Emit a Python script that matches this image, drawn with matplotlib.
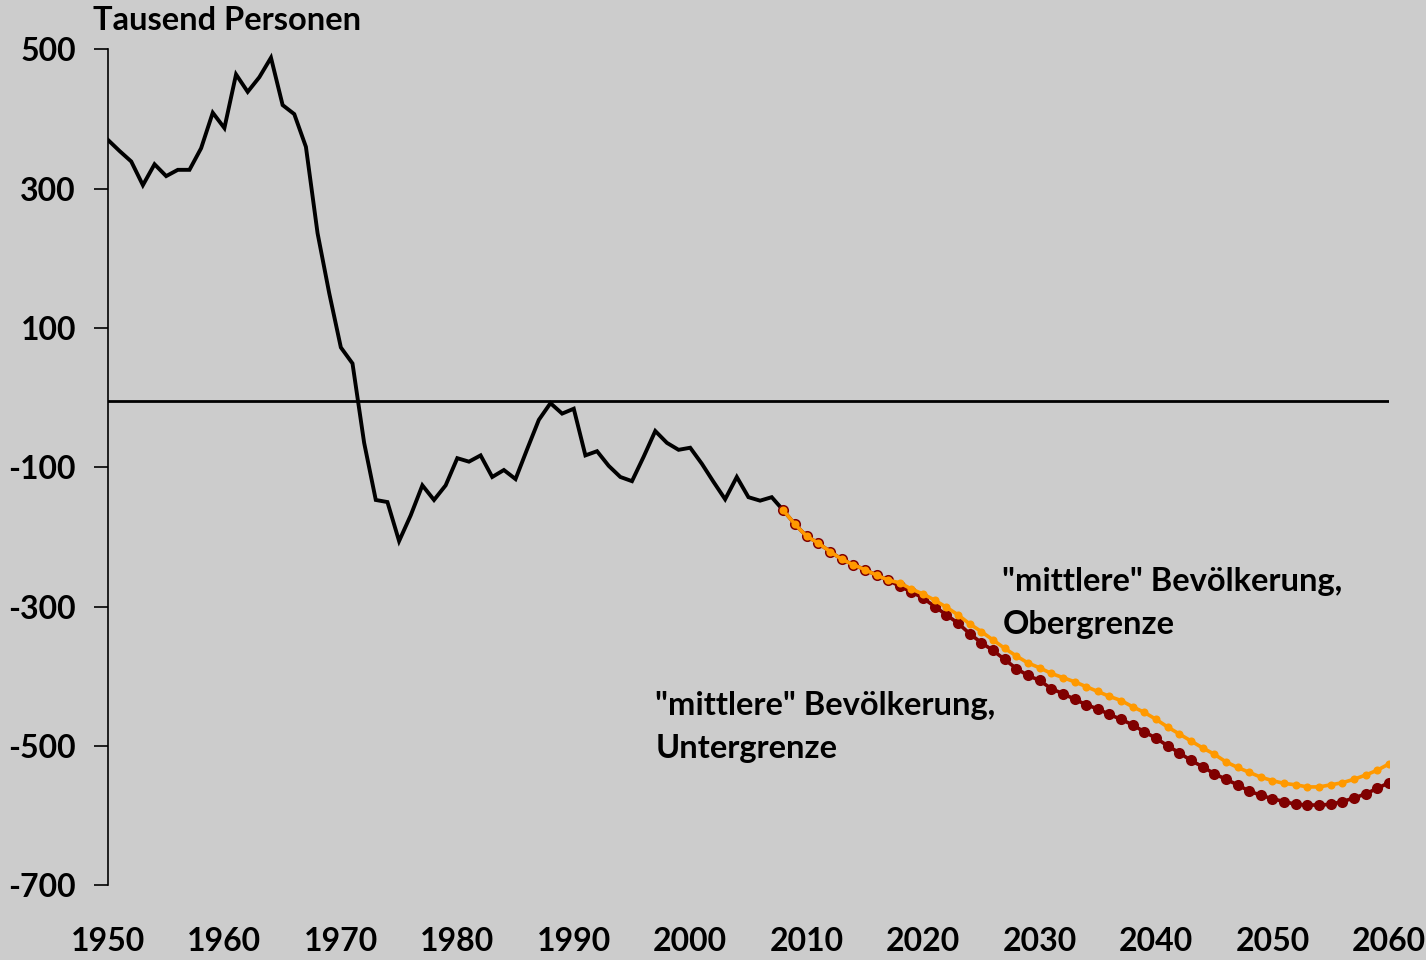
import matplotlib
matplotlib.use("Agg")
import matplotlib.pyplot as plt
import numpy as np

# Historical data (thousand persons), 1950-2008
hist_years = list(range(1950, 2009))
hist_values = [370, 354, 339, 305, 335, 318, 327, 327, 358, 409,
               387, 464, 439, 460, 488, 420, 407, 360, 236, 150,
               72, 49, -65, -147, -150, -206, -169, -126, -147, -126,
               -87, -92, -83, -114, -104, -117, -74, -32, -8, -23,
               -16, -83, -77, -98, -114, -120, -85, -48, -65, -75,
               -72, -95, -121, -146, -114, -143, -148, -143, -162]

# Projections 2008-2060
proj_years = list(range(2008, 2061))
upper_values = [-162, -182, -199, -209, -221, -232, -240, -247, -255, -262,
                -266, -275, -282, -291, -301, -312, -325, -336, -348, -360,
                -371, -381, -388, -396, -402, -408, -415, -422, -429, -435,
                -444, -452, -462, -473, -483, -493, -503, -512, -523, -531,
                -538, -545, -550, -554, -556, -559, -559, -556, -553, -548,
                -542, -535, -526]
lower_values = [-162, -182, -199, -209, -221, -232, -240, -247, -255, -262,
                -271, -279, -288, -300, -312, -324, -339, -352, -363, -376,
                -389, -399, -406, -418, -425, -433, -441, -447, -455, -462,
                -470, -480, -489, -500, -510, -521, -530, -540, -548, -556,
                -565, -571, -576, -580, -584, -585, -585, -584, -580, -575,
                -569, -561, -553]

y_ticks = [500, 300, 100, -100, -300, -500, -700]
x_ticks = list(range(1950, 2061, 10))

FONT = "Lato"
W = "bold"
FS = 23
TFS = 23.5
BG = "#cccccc"

fig = plt.figure(figsize=(14.26, 9.6), dpi=100, facecolor=BG)
ax = fig.add_axes([0.0757, 0.078, 0.8983, 0.8706], facecolor=BG)

ax.axhline(-5, color="black", lw=2.0, zorder=1)
ax.plot(hist_years, hist_values, color="black", lw=2.8, zorder=3,
        solid_joinstyle="miter")
ax.plot(proj_years, lower_values, color="#800000", lw=2.6, marker="o",
        markersize=8, markeredgewidth=0, zorder=4)
ax.plot(proj_years, upper_values, color="#ff9900", lw=2.6, marker="o",
        markersize=5.8, markeredgewidth=0, zorder=5)

ax.set_xlim(1950, 2060)
ax.set_ylim(-700, 500)

for s in ["top", "right", "bottom"]:
    ax.spines[s].set_visible(False)
ax.spines["left"].set_linewidth(1.2)

ax.set_yticks(y_ticks)
ax.set_yticklabels([str(v) for v in y_ticks])
ax.set_xticks(x_ticks)
ax.set_xticklabels([str(v) for v in x_ticks])
ax.tick_params(axis="y", direction="out", length=10, width=1.2, pad=13,
               labelsize=FS)
ax.tick_params(axis="x", length=0, pad=30, labelsize=FS)
for lab in ax.get_xticklabels() + ax.get_yticklabels():
    lab.set_fontfamily(FONT)
    lab.set_fontweight(W)

fig.text(93 / 1426, 1 - 20 / 960, "Tausend Personen", ha="left", va="center",
         fontsize=TFS, fontfamily=FONT, fontweight=W)

ax.text(2026.8, -295, '"mittlere" Bevölkerung,\nObergrenze', ha="left",
        va="center", fontsize=TFS, fontfamily=FONT, fontweight=W,
        linespacing=1.55)
ax.text(1997.0, -473, '"mittlere" Bevölkerung,\nUntergrenze', ha="left",
        va="center", fontsize=TFS, fontfamily=FONT, fontweight=W,
        linespacing=1.55)

fig.savefig("out.png", dpi=100, facecolor=BG)
